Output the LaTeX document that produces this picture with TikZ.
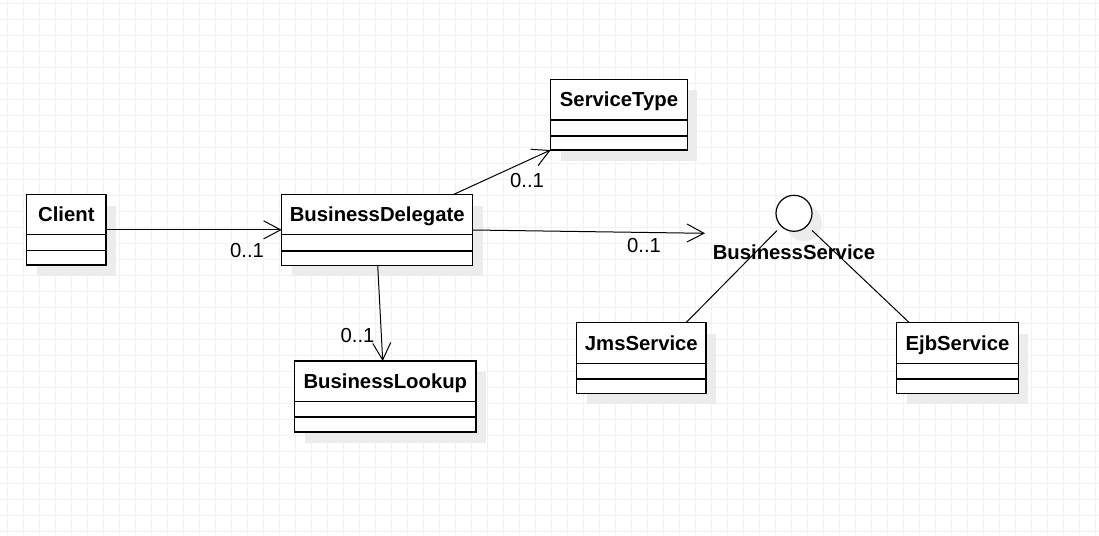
\documentclass[tikz,border=0pt]{standalone}
\usepackage{fontspec}
\setmainfont{Liberation Sans}
\usetikzlibrary{arrows.meta,calc}
\definecolor{gridc}{HTML}{F2F2F2}
\definecolor{shadowc}{HTML}{ECECEC}
\tikzset{
 box/.style={draw, line width=1.2pt, fill=white, inner sep=0pt, outer sep=0pt, anchor=north west},
 cname/.style={font=\fontsize{20.3}{24}\selectfont\bfseries, text height=14pt, text depth=0pt, inner sep=0pt},
 mult/.style={font=\fontsize{20.3}{24}\selectfont, text height=14pt, text depth=0pt, inner sep=0pt},
 assoc/.style={line width=1pt, -{Straight Barb[length=17pt,width=18pt,line width=1pt]}},
 realiz/.style={line width=1pt},
}
\newcommand\umlclass[8]{%
 \fill[shadowc] (#2+10,#3+11) rectangle (#4+10,#5+11);
 \node[box, minimum width={(#4)-(#2)}, minimum height={(#5)-(#3)}] (#1) at (#2,#3) {};
 \draw[line width=1.2pt] (#2,#6) -- (#4,#6) (#2,#7) -- (#4,#7);
 \node[cname] (#1-name) at ({(#2+#4)/2},{(#3+#6)/2}) {#8};
}
\begin{document}
\begin{tikzpicture}[x=1pt,y=-1pt]
\useasboundingbox (0,0) rectangle (1099,535);
\fill[white] (0,0) rectangle (1099,535);
\foreach \x in {7,23,...,1099} \draw[gridc, line width=0.6pt] (\x,0) -- (\x,535);
\foreach \y in {3,19,...,535} \draw[gridc, line width=0.6pt] (0,\y) -- (1099,\y);

\umlclass{client}{26.7}{194.7}{106}{265}{234.3}{250.7}{Client}
\umlclass{bd}{281.7}{194.7}{472.7}{265.3}{234.7}{251}{BusinessDelegate}
\umlclass{st}{550.7}{79.3}{687.3}{150}{120}{136}{ServiceType}
\umlclass{bl}{294.7}{361}{476}{432}{401.3}{417}{BusinessLookup}
\umlclass{jms}{576.7}{322.7}{706}{393.3}{363.3}{379}{JmsService}
\umlclass{ejb}{896.7}{322.7}{1018.3}{393.3}{363.3}{379}{EjbService}

\fill[shadowc] (804,223.3) circle (18);
\node[draw, circle, line width=1.2pt, fill=white, minimum size=36pt, inner sep=0pt, outer sep=0pt] (bs) at (794,213.3) {};
\node[cname] (bs-label) at (794,252) {BusinessService};

\draw[assoc] (client.east) -- (client.east -| bd.west);
\node[mult] (m1) at (247,250.5) {0..1};
\draw[assoc] ($(bd.north west)+(171.3,0)$) -- (st.south west);
\node[mult] (m2) at (527,180.5) {0..1};
\draw[assoc] (bd.east) -- ($(bs.center)+(-89,20)$);
\node[mult] (m3) at (644,245) {0..1};
\draw[assoc] ($(bd.south west)+(96,0)$) -- ($(bl.north west)+(88,0)$);
\node[mult] (m4) at (357.5,335.3) {0..1};
\draw[realiz, shorten <=24.5pt] (bs.center) -- ($(jms.north west)+(109.3,0)$);
\draw[realiz, shorten <=25pt] (bs.center) -- ($(ejb.north west)+(12.6,0)$);
\end{tikzpicture}
\end{document}
